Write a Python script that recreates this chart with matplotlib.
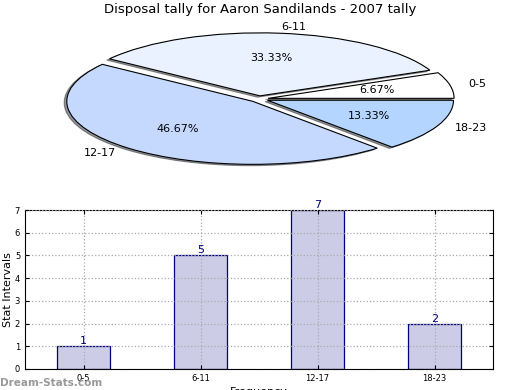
import numpy as np
import matplotlib
matplotlib.use('Agg')
import matplotlib.pyplot as plt

# data
intervals = ['0-5', '6-11', '12-17', '18-23']
counts = [1, 5, 7, 2]
pie_colors = ['#ffffff', '#eaf2ff', '#c5d9ff', '#b3d5ff']

fig = plt.figure(figsize=(5.2, 3.9), dpi=100)
W, H = 520.0, 390.0

# pie (squashed ellipse like the original)
cx, cy = 259, 291
rx, ry = 186, 63
lim = 1.3
ax1 = fig.add_axes([(cx - lim * rx) / W, (cy - lim * ry) / H,
                    2 * lim * rx / W, 2 * lim * ry / H])
wedges, texts, autotexts = ax1.pie(
    counts, labels=intervals, colors=pie_colors, explode=[0.05] * 4,
    autopct='%.2f%%', startangle=0, counterclock=True,
    shadow={'ox': -0.01, 'oy': -0.015, 'shade': 0.8},
    wedgeprops=dict(edgecolor='black', linewidth=0.8),
    textprops=dict(fontsize=8))
ax1.set_aspect('auto')
ax1.set_xlim(-lim, lim)
ax1.set_ylim(-lim, lim)

fig.text(0.5, 1 - 10 / H, 'Disposal tally for Aaron Sandilands - 2007 tally',
         fontsize=9.5, ha='center', va='center')

# bar chart
ax2 = fig.add_axes([25 / W, (390 - 369) / H, (493 - 25) / W, (369 - 210) / H])
x = np.arange(len(intervals))
ax2.bar(x, counts, width=0.45, color='#ccccE6', edgecolor='#000080',
        linewidth=0.9, zorder=2)
for xi, c in zip(x, counts):
    ax2.text(xi, c, str(c), ha='center', va='bottom', color='#000080',
             fontsize=8)
ax2.set_xlim(-0.5, 3.5)
ax2.set_ylim(0, 7)
ax2.set_xticks(x)
ax2.set_xticklabels(intervals)
ax2.set_yticks(range(8))
ax2.tick_params(labelsize=6, direction='in', length=3, right=True, top=True)
ax2.grid(True, linestyle=':', color='#aaaaaa', linewidth=0.9, zorder=3)
ax2.set_axisbelow(False)
ax2.set_ylabel('Stat Intervals', fontsize=8, labelpad=1)
ax2.set_xlabel('Frequency', fontsize=8, labelpad=3)

fig.text(0.0, 0.005, 'Dream-Stats.com', fontsize=7.5, fontweight='bold',
         color='#999999', ha='left', va='bottom')

plt.savefig('out.png', dpi=100)
